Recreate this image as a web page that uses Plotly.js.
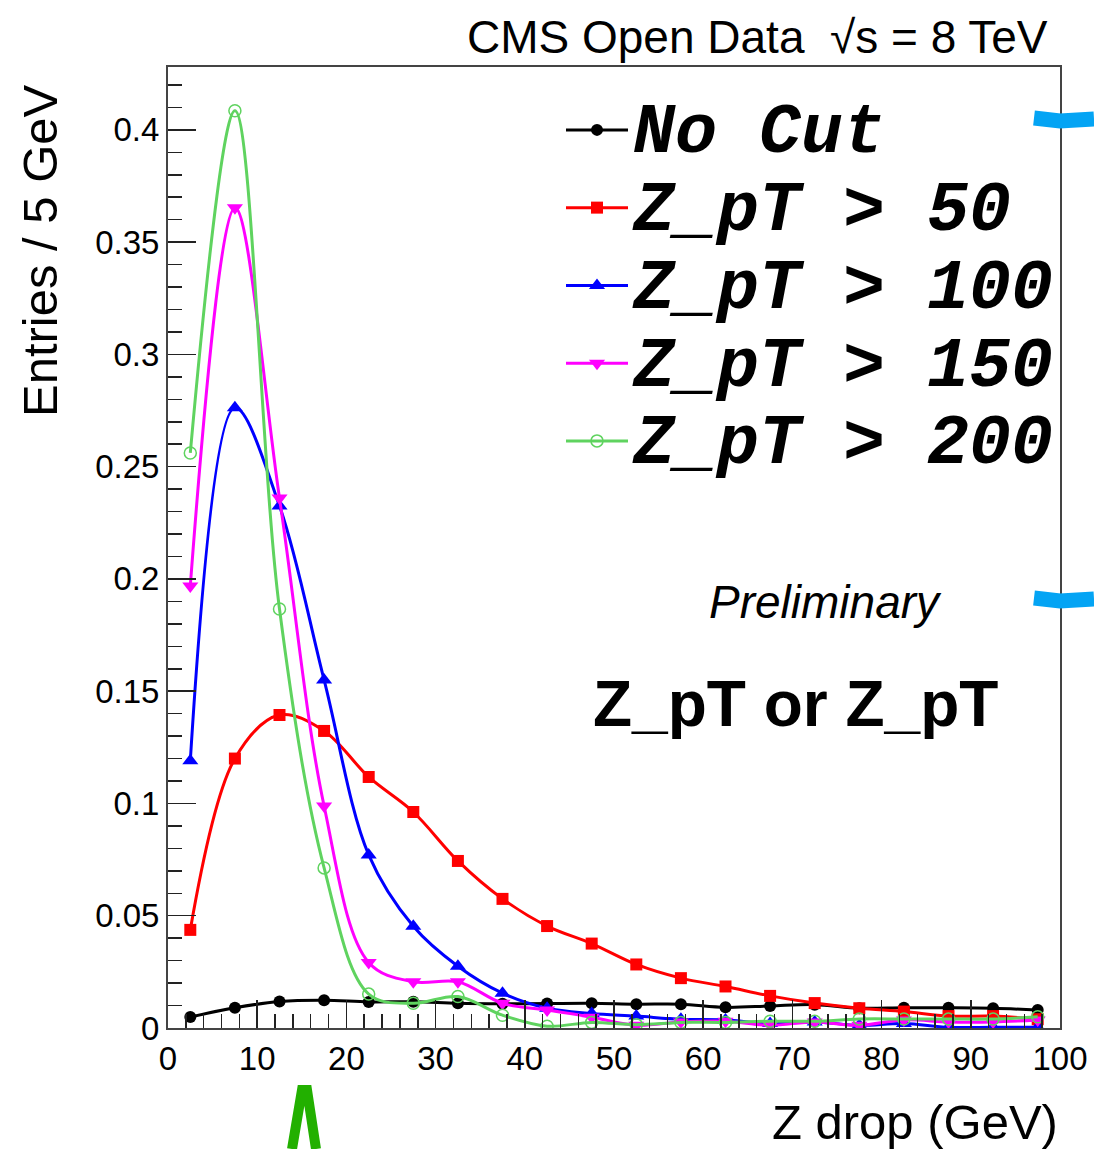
<!DOCTYPE html>
<html>
<head>
<meta charset="utf-8">
<script src="https://cdn.plot.ly/plotly-3.0.1.min.js"></script>
<style>html,body{margin:0;padding:0;background:#fff;}#chart{width:1094px;height:1149px;}</style>
</head>
<body>
<div id="chart"></div>
<script>
// Bin centres (GeV)
const zdrop = [2.5, 7.5, 12.5, 17.5, 22.5, 27.5, 32.5, 37.5, 42.5, 47.5, 52.5, 57.5, 62.5, 67.5, 72.5, 77.5, 82.5, 87.5, 92.5, 97.5];

// Normalised entries per 5 GeV
const noCut = [0.0049, 0.0090, 0.0118, 0.0124, 0.0116, 0.0117, 0.0110, 0.0108, 0.0109, 0.0110, 0.0106, 0.0106, 0.0092, 0.0098, 0.0104, 0.0088, 0.0090, 0.0090, 0.0088, 0.0080];
const pt50  = [0.0437, 0.1200, 0.1394, 0.1323, 0.1118, 0.0962, 0.0744, 0.0575, 0.0454, 0.0376, 0.0283, 0.0222, 0.0185, 0.0143, 0.0111, 0.0088, 0.0073, 0.0053, 0.0053, 0.0039];
const pt100 = [0.1190, 0.2762, 0.2325, 0.1550, 0.0771, 0.0453, 0.0275, 0.0155, 0.0088, 0.0065, 0.0053, 0.0039, 0.0036, 0.0020, 0.0027, 0.0012, 0.0020, 0.0003, 0.0003, 0.0003];
const pt150 = [0.1969, 0.3653, 0.2360, 0.0989, 0.0292, 0.0206, 0.0206, 0.0110, 0.0080, 0.0048, 0.0012, 0.0027, 0.0030, 0.0012, 0.0027, 0.0012, 0.0036, 0.0027, 0.0027, 0.0036];
const pt200 = [0.2561, 0.4085, 0.1866, 0.0713, 0.0151, 0.0110, 0.0140, 0.0057, 0.0008, 0.0025, 0.0015, 0.0025, 0.0025, 0.0030, 0.0030, 0.0040, 0.0040, 0.0040, 0.0040, 0.0050];

const seriesNames = ["No Cut", "Z_pT > 50", "Z_pT > 100", "Z_pT > 150", "Z_pT > 200"];
const seriesValues = [noCut, pt50, pt100, pt150, pt200];
const seriesColors = ["#000000", "#ff0000", "#0000ff", "#ff00ff", "#5fd35f"];
const seriesSymbols = ["circle", "square", "triangle-up", "triangle-down", "circle-open"];

const xTickVals = [0, 10, 20, 30, 40, 50, 60, 70, 80, 90, 100];
const yTickVals = [0, 0.05, 0.1, 0.15, 0.2, 0.25, 0.3, 0.35, 0.4];

const legendFont = "'Liberation Mono', 'Courier New', monospace";
const sansFont = "'Liberation Sans', Arial, Helvetica, sans-serif";

const traces = seriesNames.map((name, i) => ({
  type: "scatter",
  mode: "lines+markers",
  x: zdrop,
  y: seriesValues[i],
  name: '<span style="font-size:70px">' + name.replace(/ /g, "\u00a0") + '</span>',
  line: {color: seriesColors[i], width: 3, shape: "spline", smoothing: 1},
  marker: {
    color: seriesColors[i],
    symbol: seriesSymbols[i],
    size: (i === 2 || i === 3) ? 14 : 12,
    line: {color: seriesColors[i], width: i === 4 ? 1.5 : 0}
  }
}));

const W = 1094, H = 1149;
const L = 168, R = 1060, T = 67, B = 1028;
const px = v => (v - L) / (R - L);
const py = v => (B - v) / (B - T);

const layout = {
  width: W, height: H,
  paper_bgcolor: "#ffffff",
  plot_bgcolor: "#ffffff",
  margin: {l: L, r: W - R, t: T, b: H - B, pad: 0},
  showlegend: true,
  legend: {
    x: px(561), y: py(86), xanchor: "left", yanchor: "top",
    bgcolor: "rgba(0,0,0,0)", borderwidth: 0,
    font: {family: legendFont, size: 57.5, color: "#000", weight: "bold", style: "italic"},
    itemwidth: 62, tracegroupgap: 0
  },
  xaxis: {
    range: [0, 100], tickvals: xTickVals, ticks: "inside", ticklen: 28, tickwidth: 1.5, tickcolor: "#222",
    minor: {dtick: 2, ticks: "inside", ticklen: 14, tickwidth: 1.5, tickcolor: "#222", showgrid: false},
    showgrid: false, zeroline: false, showline: true, mirror: true, linecolor: "#444", linewidth: 2,
    tickfont: {family: sansFont, size: 33, color: "#000"}, ticklabelstandoff: 0
  },
  yaxis: {
    range: [0, 0.428], tickvals: yTickVals, ticks: "inside", ticklen: 28, tickwidth: 1.5, tickcolor: "#222",
    minor: {dtick: 0.01, ticks: "inside", ticklen: 14, tickwidth: 1.5, tickcolor: "#222", showgrid: false},
    showgrid: false, zeroline: false, showline: true, mirror: true, linecolor: "#444", linewidth: 2,
    tickfont: {family: sansFont, size: 33, color: "#000"}, ticklabelstandoff: 0
  },
  annotations: [
    {xref: "paper", yref: "paper", x: px(1050), y: py(37), xanchor: "right", yanchor: "middle",
     text: "CMS Open Data  \u221As = 8 TeV", showarrow: false,
     font: {family: sansFont, size: 46, color: "#000"}},
    {xref: "paper", yref: "paper", x: px(1060), y: py(1122), xanchor: "right", yanchor: "middle",
     text: "Z drop (GeV)", showarrow: false,
     font: {family: sansFont, size: 49, color: "#000"}},
    {xref: "paper", yref: "paper", x: px(40), y: py(251), xanchor: "center", yanchor: "middle",
     text: "Entries / 5 GeV", textangle: -90, showarrow: false,
     font: {family: sansFont, size: 49, color: "#000"}},
    {xref: "paper", yref: "paper", x: px(825), y: py(602), xanchor: "center", yanchor: "middle",
     text: "Preliminary", showarrow: false,
     font: {family: sansFont, size: 46, color: "#000", style: "italic"}},
    {xref: "paper", yref: "paper", x: px(795), y: py(704), xanchor: "center", yanchor: "middle",
     text: "Z_pT or Z_pT", showarrow: false,
     font: {family: sansFont, size: 64, color: "#000", weight: "bold"}}
  ],
  shapes: [
    {type: "path", xref: "paper", yref: "paper", layer: "above",
     path: `M${px(1034)},${py(118)} L${px(1060)},${py(121)} L${px(1094)},${py(119)}`,
     line: {color: "#04a4f4", width: 15}},
    {type: "path", xref: "paper", yref: "paper", layer: "above",
     path: `M${px(1034)},${py(598)} L${px(1060)},${py(601)} L${px(1094)},${py(599)}`,
     line: {color: "#04a4f4", width: 15}},
    {type: "path", xref: "paper", yref: "paper", layer: "above",
     path: `M${px(292)},${py(1149)} L${px(302)},${py(1090)} L${px(307)},${py(1090)} L${px(316)},${py(1149)}`,
     line: {color: "#22b000", width: 10}}
  ]
};

Plotly.newPlot("chart", traces, layout, {staticPlot: true, displayModeBar: false});
</script>
</body>
</html>
